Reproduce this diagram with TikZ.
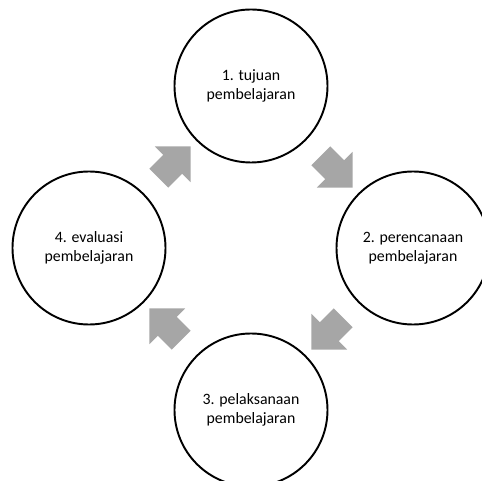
\documentclass[tikz,border=0pt]{standalone}
\usepackage{fontspec}
\setmainfont{Carlito}
\usetikzlibrary{calc,shapes.arrows}
\definecolor{abu}{RGB}{166,166,166}
\tikzset{
	tahap/.style={circle, draw=black, line width=1.1pt, fill=white, minimum size=3.06cm, inner sep=0pt, align=center, font=\fontsize{9}{10.6}\selectfont},
	panah/.style={single arrow, fill=abu, draw=none, inner xsep=0pt, inner ysep=0.26cm, minimum height=0.9cm, single arrow head extend=0.24cm}
}
\begin{document}
\begin{tikzpicture}
			\useasboundingbox (-5.02,-4.66) rectangle (4.60,4.96);
			\node[tahap] (tujuan) at (0,3.24) {1. tujuan\\pembelajaran};
			\node[tahap] (perencanaan) at (3.24,0) {2. perencanaan\\pembelajaran};
			\node[tahap] (pelaksanaan) at (0,-3.24) {3. pelaksanaan\\pembelajaran};
			\node[tahap] (evaluasi) at (-3.24,0) {4. evaluasi\\pembelajaran};
			\node[panah, rotate=-45] (p12) at ($(tujuan)!0.5!(perencanaan)$) {};
			\node[panah, rotate=-135] (p23) at ($(perencanaan)!0.5!(pelaksanaan)$) {};
			\node[panah, rotate=135] (p34) at ($(pelaksanaan)!0.5!(evaluasi)$) {};
			\node[panah, rotate=45] (p41) at ($(evaluasi)!0.5!(tujuan)$) {};
		\end{tikzpicture}
\end{document}
